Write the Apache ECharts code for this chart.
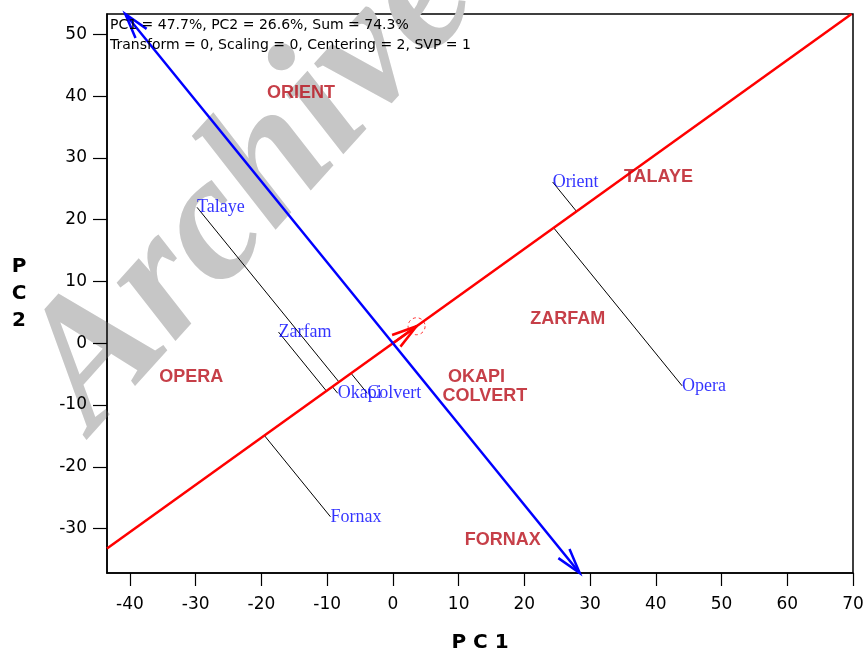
<!DOCTYPE html>
<html><head><meta charset="utf-8">
<script src="https://cdn.jsdelivr.net/npm/echarts@6/dist/echarts.min.js"></script>
<style>html,body{margin:0;padding:0;background:#fff}#c{width:864px;height:651px}</style>
</head><body><div id="c"></div>
<script>
// ---- data ----
const genotypeNames = ['Talaye','Zarfam','Okapi','Colvert','Orient','Opera','Fornax'];
const genotypeX = [-29.8,-17.4,-8.4,-3.9,24.3,44.0,-9.5];
const genotypeY = [22.0,1.8,-8.1,-8.1,26.1,-6.9,-28.1];
const testerNames = ['ORIENT','TALAYE','ZARFAM','OKAPI','COLVERT','OPERA','FORNAX'];
const testerX = [-14.0,40.4,26.6,12.7,14.0,-30.7,16.7];
const testerY = [40.5,26.9,3.9,-5.5,-8.6,-5.5,-31.9];
const avgTester = [3.6, 2.75];
const xTicks = [-40,-30,-20,-10,0,10,20,30,40,50,60,70];
const yTicks = [-30,-20,-10,0,10,20,30,40,50];
const xRange = [-43.5, 70];
const yRange = [-37.2, 53.3];
const infoLines = ['PC1 = 47.7%, PC2 = 26.6%, Sum = 74.3%','Transform = 0, Scaling = 0, Centering = 2, SVP = 1'];

// ---- derived geometry ----
const m = avgTester[1]/avgTester[0];
const ulen = Math.hypot(avgTester[0], avgTester[1]);
const u = [avgTester[0]/ulen, avgTester[1]/ulen];
const redStart = [Math.max(xRange[0], yRange[0]/m), 0];
redStart[1] = redStart[0]*m;
const redEnd = [Math.min(xRange[1], yRange[1]/m), 0];
redEnd[1] = redEnd[0]*m;
const blueTop = [-m*yRange[1], yRange[1]];
const blueBot = [-m*yRange[0], yRange[0]];

const projLines = genotypeNames.map((n,i)=>{
  const d = genotypeX[i]*u[0] + genotypeY[i]*u[1];
  return {coords:[[genotypeX[i],genotypeY[i]],[d*u[0],d*u[1]]]};
});
const arrows = [
  [0,0,avgTester[0],avgTester[1],0],
  [0,0,blueTop[0],blueTop[1],1],
  [0,0,blueBot[0],blueBot[1],1]
];

function renderArrow(params, api){
  const p0 = api.coord([api.value(0), api.value(1)]);
  const p1 = api.coord([api.value(2), api.value(3)]);
  const color = api.value(4) === 0 ? '#ff0000' : '#0000ff';
  const ang = Math.atan2(p0[1]-p1[1], p0[0]-p1[0]);
  const L = 26, a = 16*Math.PI/180;
  const b1 = [p1[0]+L*Math.cos(ang+a), p1[1]+L*Math.sin(ang+a)];
  const b2 = [p1[0]+L*Math.cos(ang-a), p1[1]+L*Math.sin(ang-a)];
  return {type:'group', children:[
    {type:'line', shape:{x1:p0[0],y1:p0[1],x2:p1[0],y2:p1[1]}, style:{stroke:color,lineWidth:2.5}},
    {type:'polyline', shape:{points:[b1,p1,b2]}, style:{stroke:color,lineWidth:2.5,fill:null}}
  ]};
}

const chart = echarts.init(document.getElementById('c'), null, {renderer:'canvas'});
chart.setOption({
  backgroundColor:'#ffffff',
  animation:false,
  grid:{left:107,right:11,top:14,bottom:78,show:true,borderColor:'#000',borderWidth:1.5,outerBoundsMode:'none'},
  xAxis:{type:'value',min:xRange[0],max:xRange[1],
    axisLine:{show:true,onZero:false,lineStyle:{color:'#000',width:1.5}},
    axisTick:{show:true,customValues:xTicks,length:13,lineStyle:{color:'#000',width:1.2}},
    axisLabel:{customValues:xTicks,margin:23,fontSize:17,fontFamily:'DejaVu Sans',color:'#000'},
    splitLine:{show:false},
    name:'P C 1',nameLocation:'middle',nameGap:60,
    nameTextStyle:{fontWeight:'bold',fontSize:20,fontFamily:'DejaVu Sans',color:'#000'}},
  yAxis:{type:'value',min:yRange[0],max:yRange[1],
    axisLine:{show:true,onZero:false,lineStyle:{color:'#000',width:1.5}},
    axisTick:{show:true,customValues:yTicks,length:14,lineStyle:{color:'#000',width:1.2}},
    axisLabel:{customValues:yTicks,margin:20,fontSize:17,fontFamily:'DejaVu Sans',color:'#000'},
    splitLine:{show:false},
    name:'P\nC\n2',nameLocation:'middle',nameRotate:0,nameGap:88,
    nameTextStyle:{fontWeight:'bold',fontSize:20,lineHeight:27,fontFamily:'DejaVu Sans',color:'#000',align:'center',padding:[0,0,10,0]}},
  graphic:[
    {type:'text',z:0,x:125,y:462,rotation:48*Math.PI/180,
      style:{text:'Archive',font:'italic bold 180px "Liberation Serif"',fill:'#c6c6c6',align:'left',verticalAlign:'bottom'}},
    {type:'text',z:100,x:110,y:25,style:{text:infoLines[0],font:'14px "DejaVu Sans"',fill:'#000',verticalAlign:'middle'}},
    {type:'text',z:100,x:110,y:45,style:{text:infoLines[1],font:'14px "DejaVu Sans"',fill:'#000',verticalAlign:'middle'}}
  ],
  series:[
    {type:'lines',coordinateSystem:'cartesian2d',z:3,silent:true,
      lineStyle:{color:'#000',width:1,opacity:1},data:projLines},
    {type:'line',z:4,symbol:'none',silent:true,lineStyle:{color:'#ff0000',width:2.5},
      data:[redStart,redEnd]},
    {type:'custom',z:5,silent:true,renderItem:renderArrow,encode:{x:[0,2],y:[1,3]},data:arrows},
    {type:'scatter',z:5,silent:true,symbol:'circle',symbolSize:17,
      itemStyle:{color:'rgba(0,0,0,0)',borderColor:'#ff0000',borderWidth:1,borderType:[3,3]},
      data:[avgTester]},
    {type:'scatter',z:6,silent:true,symbolSize:0,
      label:{show:true,position:'right',distance:0,formatter:p=>p.name,color:'#0000ff',fontFamily:'Liberation Serif',fontSize:18},
      data:genotypeNames.map((n,i)=>({name:n,value:[genotypeX[i],genotypeY[i]]}))},
    {type:'scatter',z:6,silent:true,symbolSize:0,
      label:{show:true,position:'inside',formatter:p=>p.name,color:'#b80f1a',fontFamily:'Liberation Sans',fontWeight:'bold',fontSize:18},
      data:testerNames.map((n,i)=>({name:n,value:[testerX[i],testerY[i]]}))}
  ]
});
</script></body></html>
